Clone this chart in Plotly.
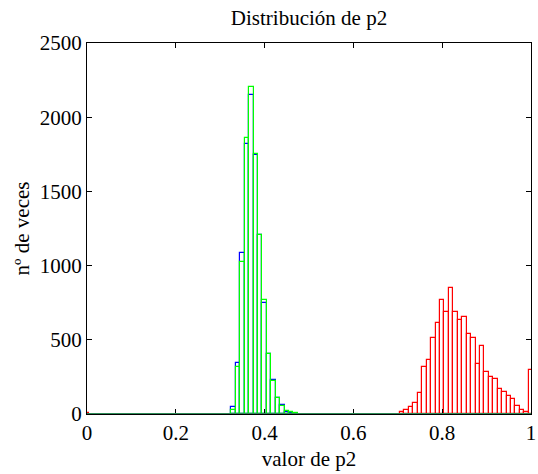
import plotly.graph_objects as go

# Bin centres (hist with centres 0:0.01:1)
centers_gb = [0.33, 0.34, 0.35, 0.36, 0.37, 0.38, 0.39, 0.40, 0.41, 0.42, 0.43, 0.44, 0.45, 0.46, 0.47]
blue_counts = [45, 346, 1083, 1820, 2150, 1745, 1208, 750, 402, 230, 106, 60, 15, 10, 3]
green_counts = [27, 315, 1024, 1862, 2201, 1752, 1208, 768, 402, 225, 106, 56, 20, 15, 8]

centers_red = [0.00] + [round(0.71 + 0.01 * i, 2) for i in range(30)]
red_counts = [8, 11, 25, 47, 76, 139, 315, 366, 510, 611, 766, 685, 847, 685, 631, 652,
              537, 512, 339, 460, 285, 252, 234, 166, 148, 121, 101, 54, 25, 11, 296]

x_ticks = [0, 0.2, 0.4, 0.6, 0.8, 1]
x_tick_text = ["0", "0.2", "0.4", "0.6", "0.8", "1"]
y_ticks = [0, 500, 1000, 1500, 2000, 2500]

FONT = "Liberation Serif, Times New Roman, serif"

fig = go.Figure()
for xs, ys, col in [(centers_gb, blue_counts, "#0000ff"),
                    (centers_gb, green_counts, "#00ff00"),
                    (centers_red, red_counts, "#ff0000")]:
    fig.add_trace(go.Bar(
        x=xs, y=ys, width=0.01,
        marker=dict(color="rgba(255,255,255,0)", line=dict(color=col, width=1.2)),
        showlegend=False, hoverinfo="x+y",
    ))

fig.add_shape(type="line", xref="x", yref="y", x0=0, x1=1, y0=0, y1=0,
              line=dict(color="#2e8b57", width=2), layer="above")

fig.update_layout(
    width=538, height=474,
    margin=dict(l=87, r=7, t=43, b=60),
    paper_bgcolor="white", plot_bgcolor="white",
    barmode="overlay", bargap=0,
    font=dict(family=FONT, color="black", size=21),
    title=dict(text="Distribución de p2", xref="paper", x=0.5, xanchor="center",
               y=0.9625, yanchor="middle",
               font=dict(family=FONT, size=21, color="black")),
)
fig.update_xaxes(
    range=[0, 1], tickvals=x_ticks, ticktext=x_tick_text, automargin=False,
    showline=True, linecolor="black", linewidth=1, mirror="allticks",
    ticks="inside", ticklen=5, tickcolor="black", showgrid=False, zeroline=False,
    tickfont=dict(family=FONT, size=21),
    title=dict(text="valor de p2", font=dict(family=FONT, size=21), standoff=7),
)
fig.update_yaxes(
    range=[0, 2500], tickvals=y_ticks, automargin=False,
    showline=True, linecolor="black", linewidth=1, mirror="allticks",
    ticks="inside", ticklen=5, tickcolor="black", showgrid=False, zeroline=False,
    tickfont=dict(family=FONT, size=21),
    title=dict(text="nº de veces", font=dict(family=FONT, size=21), standoff=4),
)

fig.write_html("out.html")
